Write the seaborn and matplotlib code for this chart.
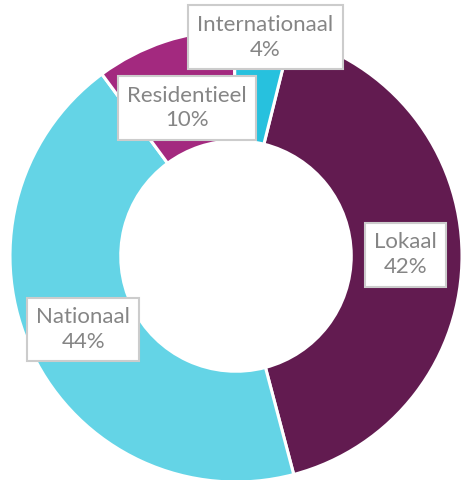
import numpy as np
import matplotlib.pyplot as plt
import seaborn as sns

# Herkomst (share in %), clockwise from the top
categories = ['Lokaal', 'Nationaal', 'Residentieel', 'Internationaal']
shares = [42, 44, 10, 4]
colors = ['#621b50', '#64d4e6', '#a3297f', '#27c1de']

sns.set_theme(style='white')
plt.rcParams['font.family'] = ['Lato', 'DejaVu Sans']

fig = plt.figure(figsize=(4.62, 4.80), dpi=100)
ax = fig.add_axes([0, 0, 1, 1])

wedges, _ = ax.pie(shares, colors=colors, startangle=76, counterclock=False,
                   radius=1.0, wedgeprops=dict(width=0.49, edgecolor='white', linewidth=2.2))

# label radius per slice (small slices pushed outward so the boxes don't collide)
label_r = [0.75, 0.75, 0.69, 0.975]
for w, name, val, r in zip(wedges, categories, shares, label_r):
    ang = np.deg2rad((w.theta1 + w.theta2) / 2)
    x, y = r * np.cos(ang), r * np.sin(ang)
    if name == 'Internationaal':
        x += 0.015
    ax.text(x, y, f'{name}\n{val}%', ha='center', va='center', fontsize=16,
            color='#858585', linespacing=1.3,
            bbox=dict(boxstyle='square,pad=0.42', fc='white', ec='#cccccc', lw=1.5))

ax.set_xlim(-236 / 226, 226 / 226)
ax.set_ylim(-224 / 226, 256 / 226)
ax.set_aspect('equal')
ax.axis('off')

plt.savefig('out.png', dpi=100)
